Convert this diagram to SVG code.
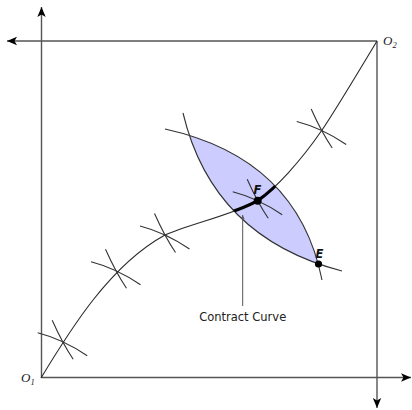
<svg xmlns="http://www.w3.org/2000/svg" xmlns:xlink="http://www.w3.org/1999/xlink" width="412" height="410" viewBox="0 0 412 410">
<style>
.axis{fill:none;stroke:#555;stroke-width:1.4}
.curve{fill:none;stroke:#2a2a2a;stroke-width:1.1}
.ic{fill:none;stroke:#333;stroke-width:1.1}
.lbl{font-family:"DejaVu Sans",sans-serif;fill:#222}
.pt{font-family:"DejaVu Sans",sans-serif;font-weight:bold;font-style:italic;font-size:11.5px;fill:#111}
.orig{font-family:"Liberation Serif",serif;font-style:italic;font-size:13px;fill:#222}
</style>
<defs>
<marker id="ah" viewBox="-11 -5 12 10" refX="0" refY="0" markerWidth="12" markerHeight="10" markerUnits="userSpaceOnUse" orient="auto">
<path d="M0,0 L-10,-4.2 L-7.5,0 L-10,4.2 Z" fill="#000"/>
</marker>
<marker id="sa" viewBox="-5 -3 6 6" refX="0" refY="0" markerWidth="6" markerHeight="6" markerUnits="userSpaceOnUse" orient="auto">
<path d="M0,0 L-4.5,-2 L-3.5,0 L-4.5,2 Z" fill="#555"/>
</marker>
<g id="cross">
<path class="ic" d="M-25,-9 Q0.25,-2.5 24.5,14"/>
<path class="ic" d="M-10.5,-21.5 Q0,2 10.5,17.5"/>
</g>
<clipPath id="r1"><path d="M165,129 Q297.6,158.2 322,280 L322,410 L0,410 L0,129 Z"/></clipPath>
<clipPath id="r2"><path d="M183,113 Q212.6,237.3 342,271 L412,271 L412,0 L183,0 Z"/></clipPath>
</defs>

<g id="axes">
<line class="axis" x1="41.5" y1="378" x2="41.5" y2="7" marker-end="url(#ah)"/>
<line class="axis" x1="41.5" y1="377.5" x2="411" y2="377.5" marker-end="url(#ah)"/>
<line class="axis" x1="377" y1="41" x2="7" y2="41" marker-end="url(#ah)"/>
<line class="axis" x1="377" y1="41" x2="377" y2="408" marker-end="url(#ah)"/>
</g>

<g id="lens">
<g clip-path="url(#r1)"><g clip-path="url(#r2)">
<rect x="0" y="0" width="412" height="410" fill="#ccccff"/>
</g></g>
</g>

<g id="indifference">
<path class="ic" d="M183,113 Q212.6,237.3 342,271"/>
<path class="ic" d="M165,129 Q297.6,158.2 322,280"/>
</g>

<g id="connectors">
<path id="cc" class="curve" d="M41,378 C70,330 110,265 165,235 C190,224 235,214 257.7,200.7 C275,189 300,162 321.7,130.5 C335,111 356,76 377,41"/>
<g clip-path="url(#r1)"><g clip-path="url(#r2)">
<path fill="none" stroke="#000" stroke-width="3.2" d="M41,378 C70,330 110,265 165,235 C190,224 235,214 257.7,200.7 C275,189 300,162 321.7,130.5 C335,111 356,76 377,41"/>
</g></g>
<line x1="242.7" y1="306" x2="242.7" y2="215" stroke="#555" stroke-width="1" marker-end="url(#sa)"/>
</g>

<g id="crossings">
<use xlink:href="#cross" x="62.7" y="341.7"/>
<use xlink:href="#cross" x="116" y="270.7"/>
<use xlink:href="#cross" x="165" y="235"/>
<use xlink:href="#cross" x="257.7" y="200.7"/>
<use xlink:href="#cross" x="321.7" y="130.5"/>
</g>

<g id="pointF">
<circle cx="257.7" cy="200.7" r="4" fill="#000"/>
<text class="pt" x="253.5" y="193.5">F</text>
</g>
<g id="pointE">
<circle cx="318.5" cy="264" r="3.6" fill="#000"/>
<text class="pt" x="315.5" y="257.5">E</text>
</g>

<g id="labels">
<text class="lbl" x="242.7" y="320.5" font-size="11.5" text-anchor="middle">Contract Curve</text>
<text class="orig" x="21" y="382">O<tspan font-size="8.5" dy="2.5">1</tspan></text>
<text class="orig" x="383" y="45">O<tspan font-size="8.5" dy="2.5">2</tspan></text>
</g>
</svg>
